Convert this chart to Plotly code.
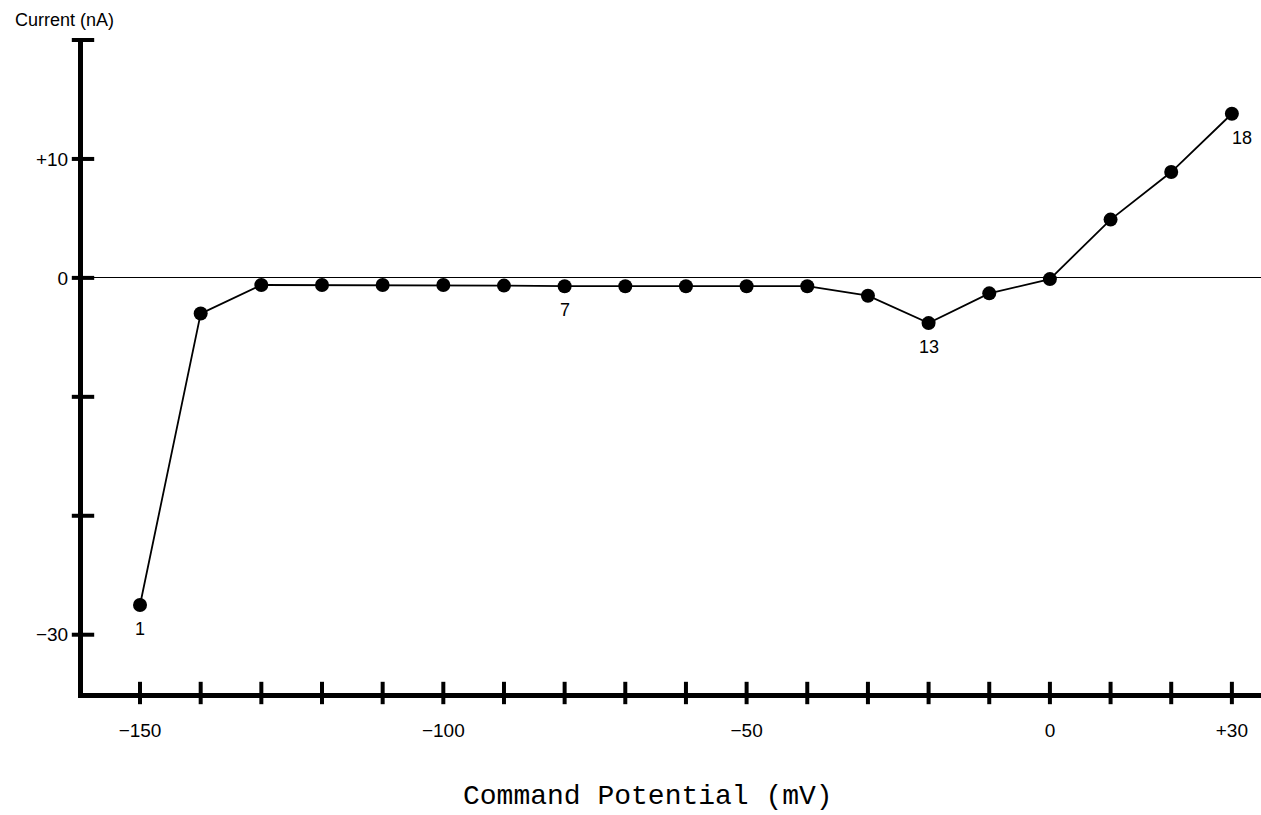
import plotly.graph_objects as go

# Data
potential_mv = [-150, -140, -130, -120, -110, -100, -90, -80, -70, -60,
                -50, -40, -30, -20, -10, 0, 10, 20, 30]
current_na = [-27.5, -3.0, -0.6, -0.6, -0.6, -0.6, -0.65, -0.7, -0.7, -0.7,
              -0.7, -0.7, -1.5, -3.8, -1.3, -0.1, 4.9, 8.9, 13.8]

point_labels = {-150: "1", -80: "7", -20: "13", 30: "18"}

x_ticks = list(range(-150, 31, 10))
x_tick_labels = {-150: "\u2212150", -100: "\u2212100", -50: "\u221250", 0: "0", 30: "+30"}
y_ticks = [10, 0, -10, -20, -30]
y_tick_labels = {10: "+10", 0: "0", -30: "\u221230"}
y_cap = 20

x_range = [-159.4, 34.8]
y_range = [-34.9, 20.0]

fig = go.Figure()

# tick marks crossing the axes
fig.add_trace(go.Scatter(
    x=x_ticks, y=[y_range[0]] * len(x_ticks), mode="markers",
    marker=dict(symbol="line-ns", size=16, line=dict(color="black", width=4)),
    cliponaxis=False, hoverinfo="skip", showlegend=False))
fig.add_trace(go.Scatter(
    x=[x_range[0]] * (len(y_ticks) + 1), y=y_ticks + [y_cap], mode="markers",
    marker=dict(symbol="line-ew", size=16, line=dict(color="black", width=4)),
    cliponaxis=False, hoverinfo="skip", showlegend=False))

# data
fig.add_trace(go.Scatter(
    x=potential_mv, y=current_na, mode="lines+markers",
    line=dict(color="black", width=1.8),
    marker=dict(color="black", size=14),
    cliponaxis=False, showlegend=False))

for xv, yv in zip(potential_mv, current_na):
    if xv in point_labels:
        dx = 10 if xv == 30 else 0
        fig.add_annotation(x=xv, y=yv, text=point_labels[xv], showarrow=False,
                           xshift=dx, yshift=-24,
                           font=dict(family="Liberation Sans", size=18, color="black"))

fig.add_annotation(x=-0.0153, y=1.0, xref="paper", yref="paper", yshift=20,
                   text="Current (nA)", showarrow=False, xanchor="center", yanchor="middle",
                   font=dict(family="Liberation Sans", size=18, color="black"))
fig.add_annotation(x=0.4797, y=0, xref="paper", yref="paper", yshift=-103,
                   text="Command Potential (mV)", showarrow=False, yanchor="middle",
                   font=dict(family="Liberation Mono", size=28, color="black"))

fig.update_layout(
    width=1261, height=815,
    margin=dict(l=83, r=0, t=40, b=122),
    paper_bgcolor="white", plot_bgcolor="white",
    font=dict(family="Liberation Sans", size=19, color="black"),
    xaxis=dict(range=x_range, showgrid=False, zeroline=False,
               showline=True, linecolor="black", linewidth=5,
               tickvals=list(x_tick_labels.keys()),
               ticktext=list(x_tick_labels.values()),
               tickfont=dict(size=19),
               ticks="", ticklabelstandoff=16),
    yaxis=dict(range=y_range, showgrid=False,
               zeroline=True, zerolinecolor="black", zerolinewidth=1.4,
               showline=True, linecolor="black", linewidth=5,
               tickvals=list(y_tick_labels.keys()),
               ticktext=list(y_tick_labels.values()),
               tickfont=dict(size=19),
               ticks="", ticklabelstandoff=6),
)

fig.write_html("out.html")
